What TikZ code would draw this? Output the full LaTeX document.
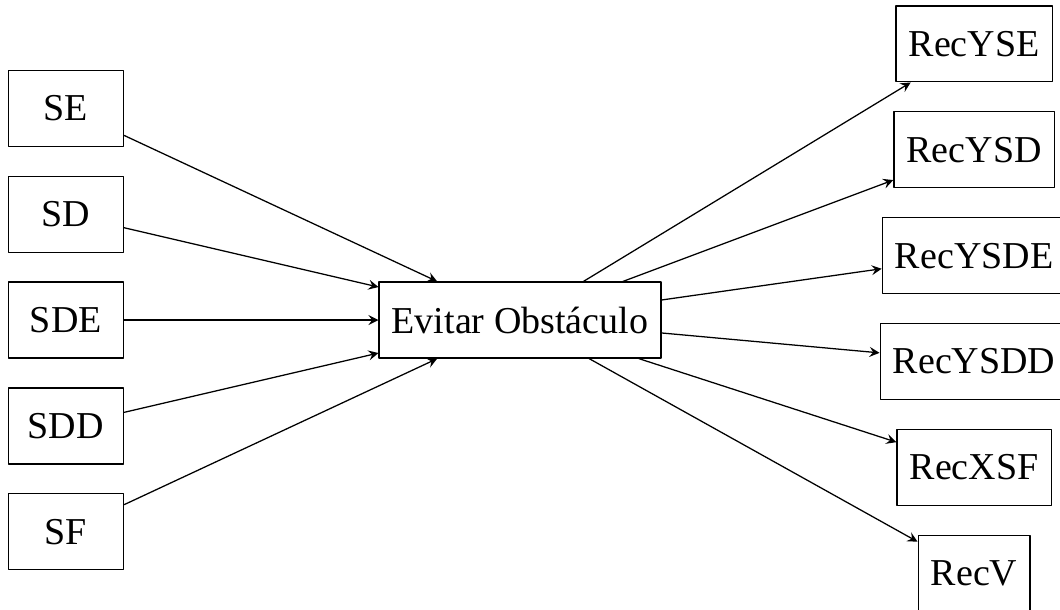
\documentclass[tikz,border=0pt]{standalone}
\usepackage{fontspec}
\setmainfont{Liberation Serif}
\usepackage{tikz}
\usetikzlibrary{arrows.meta}
\tikzset{
  every picture/.style={line join=round, line cap=round},
  bloco/.style={draw, minimum height=0.843cm, inner sep=4pt},
  sensor/.style={bloco, minimum width=1.28cm},
}

\begin{document}
\begin{tikzpicture}[->,>=stealth,font=\fontsize{12}{14.4}\selectfont]
\useasboundingbox (-5.771,-3.208) rectangle (5.993,3.552);
% comportamento
\node[bloco] (evitar) at (0,0) {Evitar Obst\'aculo};
% entradas
\node[sensor] (se) at (-5.04,2.35) {SE};
\node[sensor] (sd) at (-5.04,1.175) {SD};
\node[sensor] (sde) at (-5.04,0) {SDE};
\node[sensor] (sdd) at (-5.04,-1.175) {SDD};
\node[sensor] (sf) at (-5.04,-2.35) {SF};
% saidas
\node[bloco] (recyse) at (5.04,3.065) {RecYSE};
\node[bloco] (recysd) at (5.04,1.89) {RecYSD};
\node[bloco] (recysde) at (5.04,0.715) {RecYSDE};
\node[bloco] (recysdd) at (5.04,-0.46) {RecYSDD};
\node[bloco] (recxsf) at (5.04,-1.635) {RecXSF};
\node[bloco] (recv) at (5.04,-2.81) {RecV};
\draw (se)--(evitar);
\draw (sd)--(evitar);
\draw (sde)--(evitar);
\draw (sdd)--(evitar);
\draw (sf)--(evitar);
\draw (evitar)--(recyse);
\draw (evitar)--(recysd);
\draw (evitar)--(recysde);
\draw (evitar)--(recysdd);
\draw (evitar)--(recxsf);
\draw (evitar)--(recv);
\end{tikzpicture}
\end{document}
